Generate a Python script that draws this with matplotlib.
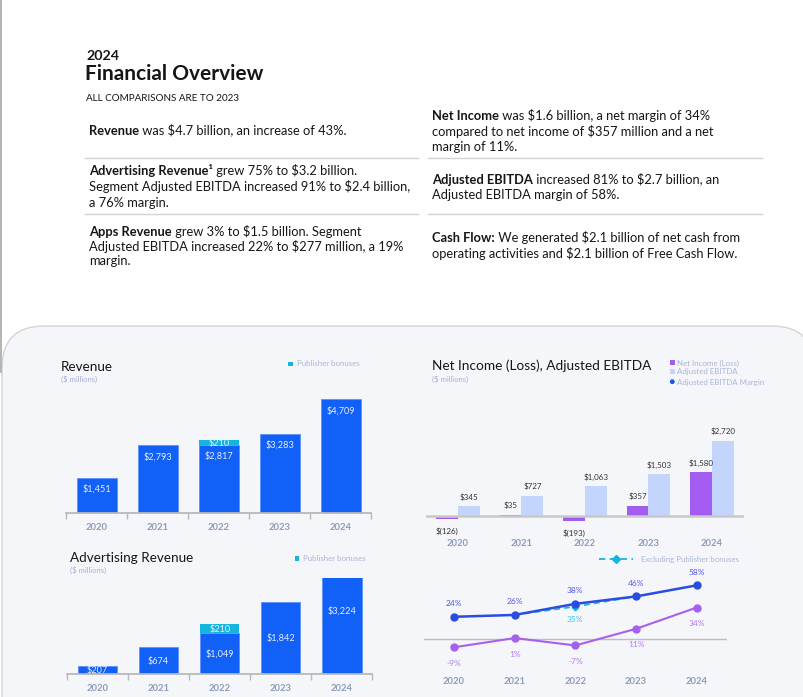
import matplotlib
matplotlib.use('Agg')
import matplotlib.pyplot as plt
from matplotlib.patches import FancyBboxPatch, Rectangle, Circle
import numpy as np

W, H = 804, 697
plt.rcParams['font.family'] = ['Lato', 'DejaVu Sans']

# ---------------- data ----------------
years = ['2020', '2021', '2022', '2023', '2024']
revenue = [1451, 2793, 2817, 3283, 4709]
revenue_bonus = [0, 0, 210, 0, 0]
adv_revenue = [207, 674, 1049, 1842, 3224]
adv_bonus = [0, 0, 210, 0, 0]
net_income = [-126, 35, -193, 357, 1580]
adj_ebitda = [345, 727, 1063, 1503, 2720]
ebitda_margin = [24, 26, 38, 46, 58]
net_margin = [-9, 1, -7, 11, 34]
ebitda_margin_ex_bonus = [np.nan, 26, 35, 46, np.nan]

BLUE = '#1160F7'
CYAN = '#15B5DE'
PURPLE = '#A35CF0'
LIGHTBLUE = '#C3D5FC'
MBLUE = '#2A4DE0'
MPURPLE = '#A561EE'
YEARC = '#8D9CBB'
LEGC = '#A9B6D8'
SUBC = '#A7AEDA'
TXT = '#161616'

fig = plt.figure(figsize=(8.04, 6.97), dpi=100)
fig.patch.set_facecolor('white')
bg = fig.add_axes([0, 0, 1, 1])
bg.set_xlim(0, W)
bg.set_ylim(H, 0)
bg.axis('off')
bg.set_zorder(0)
renderer = fig.canvas.get_renderer()


def em(size):
    return size * 100 / 72


def T(x, yc, s, size, color=TXT, weight='normal', ha='left'):
    return bg.text(x, yc + 0.36 * em(size), s, fontsize=size, color=color,
                   fontweight=weight, ha=ha, va='baseline')


def rich(x, yc, parts, size):
    cx = x
    for s, w in parts:
        t = T(cx, yc, s, size, weight=w)
        cx += t.get_window_extent(renderer).width


# page edge and panel
bg.plot([1, 1], [0, 372], color='#A8A8A8', lw=1.2)
panel = FancyBboxPatch((2, 326), 812, 430, boxstyle='round,pad=0,rounding_size=42',
                       fc='#F5F6FA', ec='#D4D4D4', lw=1)
bg.add_patch(panel)

# ---------------- header text ----------------
T(86.5, 55, '2024', 10.3, weight='bold')
T(85.5, 73, 'Financial Overview', 15, weight='bold')
T(86, 97.7, 'ALL COMPARISONS ARE TO 2023', 7.1)

BS = 9.3
rich(89, 130, [('Revenue', 'bold'), (' was $4.7 billion, an increase of 43%.', 'normal')], BS)
rich(89, 170.7, [('Advertising Revenue\u00b9', 'bold'), (' grew 75% to $3.2 billion.', 'normal')], BS)
T(89, 186.7, 'Segment Adjusted EBITDA increased 91% to $2.4 billion,', BS)
T(89, 202.3, 'a 76% margin.', BS)
rich(89, 231.3, [('Apps Revenue', 'bold'), (' grew 3% to $1.5 billion. Segment', 'normal')], BS)
T(89, 246, 'Adjusted EBITDA increased 22% to $277 million, a 19%', BS)
T(89, 260, 'margin.', BS)

rich(432.3, 115.7, [('Net Income', 'bold'), (' was $1.6 billion, a net margin of 34%', 'normal')], BS)
T(432.3, 131, 'compared to net income of $357 million and a net', BS)
T(432.3, 146, 'margin of 11%.', BS)
rich(432.3, 179, [('Adjusted EBITDA', 'bold'), (' increased 81% to $2.7 billion, an', 'normal')], BS)
T(432.3, 194, 'Adjusted EBITDA margin of 58%.', BS)
rich(432.3, 237.7, [('Cash Flow:', 'bold'), (' We generated $2.1 billion of net cash from', 'normal')], BS)
T(432.3, 253.3, 'operating activities and $2.1 billion of Free Cash Flow.', BS)

for y in (158, 214):
    bg.plot([85, 418], [y, y], color='#D3D3D3', lw=1)
    bg.plot([428, 762], [y, y], color='#D3D3D3', lw=1)

# ---------------- chart titles and legends ----------------
T(60.7, 365.7, 'Revenue', 9.7)
T(60.7, 379.3, '($ millions)', 5.5, color=SUBC)
T(70, 556.7, 'Advertising Revenue', 9.7)
T(70, 570.5, '($ millions)', 5.5, color=SUBC)
T(431.7, 365, 'Net Income (Loss), Adjusted EBITDA', 9.8)
T(431.7, 379.3, '($ millions)', 5.5, color=SUBC)

LS = 5.7
bg.add_patch(Rectangle((288.3, 361.6), 4.5, 4.5, fc=CYAN, ec='none'))
T(296.7, 363.6, 'Publisher bonuses', LS, color=LEGC)
bg.add_patch(Rectangle((295, 556.4), 4.5, 4.5, fc=CYAN, ec='none'))
T(302.7, 558.6, 'Publisher bonuses', LS, color=LEGC)

bg.add_patch(Rectangle((670, 360.3), 4.7, 4.7, fc=PURPLE, ec='none'))
T(676.7, 362.6, 'Net Income (Loss)', LS, color=LEGC)
bg.add_patch(Rectangle((670, 369), 4.7, 4.7, fc=LIGHTBLUE, ec='none'))
T(676.7, 371.3, 'Adjusted EBITDA', LS, color=LEGC)
bg.add_patch(Circle((672.3, 381.7), 2.4, fc='#1A55F0', ec='none'))
T(676.7, 381.7, 'Adjusted EBITDA Margin', LS, color=LEGC)

bg.plot([599, 633], [558.7, 558.7], color=CYAN, lw=1.3, ls=(0, (3.5, 2.5)))
bg.plot([616], [558.7], marker='D', color=CYAN, ms=3.6)
T(640.7, 558.7, 'Excluding Publisher bonuses', LS, color=LEGC)


# ---------------- chart axes ----------------
def px_axes(l, t, r, b):
    a = fig.add_axes([l / W, 1 - b / H, (r - l) / W, (b - t) / H])
    a.set_zorder(1)
    a.set_facecolor('none')
    return a


def lab(ax, x, y, s, dy_center, size, color, ha='center', weight='normal', dx=0):
    ax.annotate(s, xy=(x, y), xytext=(dx, dy_center - 0.36 * em(size)),
                textcoords='offset pixels', ha=ha, va='baseline', fontsize=size,
                color=color, fontweight=weight, annotation_clip=False)


def money(v):
    return '${:,}'.format(v) if v >= 0 else '$({:,})'.format(-v)


x = np.arange(len(years))


def style_bar_axis(ax):
    for s in ('top', 'left', 'right'):
        ax.spines[s].set_visible(False)
    ax.spines['bottom'].set_color('#B8B8B8')
    ax.spines['bottom'].set_linewidth(1.3)
    ax.set_yticks([])
    ax.set_xticks([])
    ax.set_xticks(np.arange(-0.5, len(years)), minor=True)
    ax.tick_params(axis='x', which='minor', length=4.5, width=1, color='#B8B8B8',
                   labelbottom=False)
    ax.set_xlim(-0.5, len(years) - 0.5)
    for i, yr in enumerate(years):
        lab(ax, i, 0, yr, -14, 6.8, YEARC, weight='bold')


# Revenue
ax1 = px_axes(66.5, 392.3, 371.5, 512.7)
ax1.set_ylim(0, 5000)
ax1.bar(x, revenue, width=0.64, color=BLUE, edgecolor='#5E90FA', lw=0.6)
ax1.bar(x, revenue_bonus, width=0.64, bottom=revenue, color=CYAN, lw=0)
style_bar_axis(ax1)
for i in range(len(years)):
    lab(ax1, i, revenue[i], money(revenue[i]), -11, 6.6, '#E8EEFF')
    if revenue_bonus[i]:
        lab(ax1, i, revenue[i] + revenue_bonus[i] / 2, money(revenue_bonus[i]), -0.5, 6.6, '#E8EEFF')

# Advertising revenue (top of 2024 bar is cut by the panel frame)
ax2 = px_axes(67, 578, 372.5, 674)
ax2.set_ylim(0, 2440)
ax2.bar(x, adv_revenue, width=0.64, color=BLUE, edgecolor='#5E90FA', lw=0.6)
ax2.bar(x, adv_bonus, width=0.64, bottom=adv_revenue, color=CYAN, lw=0)
style_bar_axis(ax2)
for i in range(len(years)):
    lab(ax2, i, adv_revenue[i] / 2, money(adv_revenue[i]), 0, 6.6, '#E8EEFF')
    if adv_bonus[i]:
        lab(ax2, i, adv_revenue[i] + adv_bonus[i] / 2, money(adv_bonus[i]), 0, 6.6, '#E8EEFF')

# Net income / Adjusted EBITDA
ax3 = px_axes(426.25, 420, 743.75, 530)
ax3.set_ylim(-520, 3480)
ax3.set_xlim(-0.5, len(years) - 0.5)
ax3.axis('off')
bw = 0.346
ax3.bar(x - bw / 2, net_income, width=bw, color=PURPLE, lw=0)
ax3.bar(x + bw / 2, adj_ebitda, width=bw, color=LIGHTBLUE, lw=0)
ax3.axhline(0, color='#C9C9C9', lw=1.8)
for i in range(len(years)):
    v = net_income[i]
    if v >= 0:
        lab(ax3, i - bw / 2, v, money(v), 9.5, 5.8, '#333333')
    else:
        lab(ax3, i - bw / 2, v, money(v), -11.5, 5.8, '#333333')
    lab(ax3, i + bw / 2, adj_ebitda[i], money(adj_ebitda[i]), 9.5, 5.8, '#333333')
    lab(ax3, i, 0, years[i], -27, 6.8, YEARC, weight='bold')

# Margins
ax4 = px_axes(423.66, 565, 727.04, 672)
ax4.set_ylim(-35.7, 80)
ax4.set_xlim(-0.5, len(years) - 0.5)
ax4.axis('off')
ax4.axhline(0, color='#BDBDBD', lw=1)
ax4.plot(x, ebitda_margin_ex_bonus, color=CYAN, lw=1.2, ls=(0, (3.5, 2.5)),
         marker='D', ms=3.4, markevery=[2], zorder=2)
ax4.plot(x, ebitda_margin, color=MBLUE, lw=1.8, marker='o', ms=5, zorder=3)
ax4.plot(x, net_margin, color=MPURPLE, lw=1.5, marker='o', ms=5, zorder=3)
for i in range(len(years)):
    lab(ax4, i, ebitda_margin[i], '{}%'.format(ebitda_margin[i]), 13.5, 6, '#5457E5')
    lab(ax4, i, net_margin[i], '{}%'.format(net_margin[i]), -15.5, 6, '#B27BF2')
    ex = ebitda_margin_ex_bonus[i]
    if not np.isnan(ex) and ex != ebitda_margin[i]:
        lab(ax4, i, ex, '{:.0f}%'.format(ex), -12.5, 6, '#45C3EA')
    lab(ax4, i, 0, years[i], -41.7, 6.8, YEARC, weight='bold')

fig.savefig('out.png', dpi=100)
